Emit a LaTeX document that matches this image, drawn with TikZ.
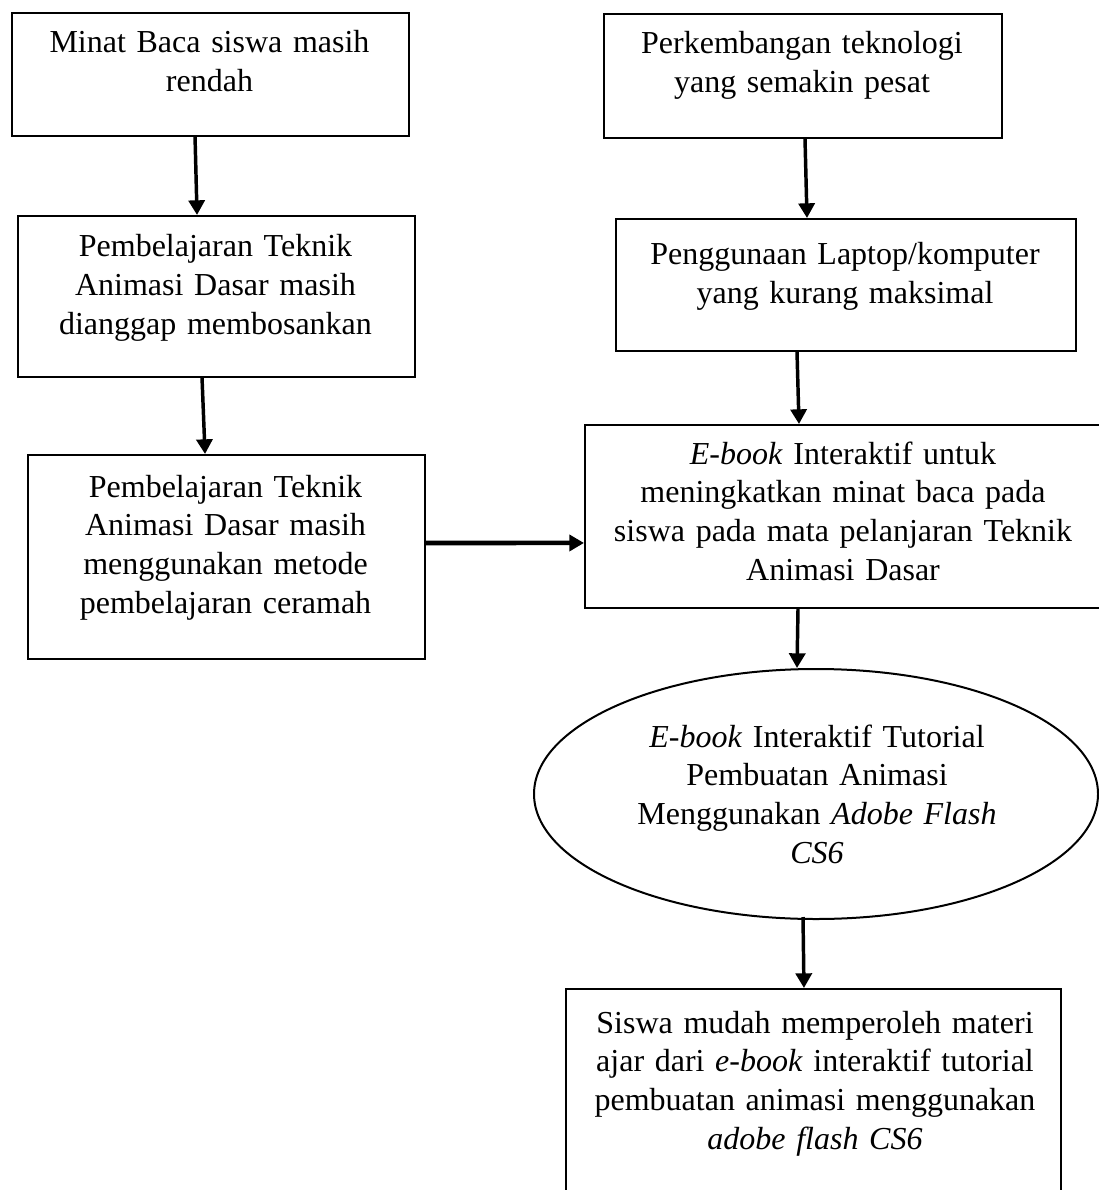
\documentclass[tikz,border=0pt]{standalone}
\usepackage{fontspec}
\setmainfont{Liberation Serif}
\usetikzlibrary{arrows.meta,calc,shapes.geometric}
\begin{document}
\begin{tikzpicture}[x=0.375pt,y=-0.375pt,
  kotak/.style={draw,line width=0.75pt,rectangle,anchor=north west,inner sep=0pt},
  oval/.style={draw,line width=0.75pt,ellipse,inner sep=0pt},
  teks/.style={anchor=base,align=center,text width=200pt,inner sep=0pt,
    font=\fontsize{12}{14.6}\selectfont},
  panah/.style={line width=1.3pt,-{Triangle[length=5.5pt,width=6pt]}}]
\useasboundingbox (0,0) rectangle (1098,1190);
% kotak kiri
\node[kotak,minimum width=148.9pt,minimum height=46.1pt] (minat) at (11,12) {};
\node[kotak,minimum width=148.9pt,minimum height=60.4pt] (bosan) at (17,215) {};
\node[kotak,minimum width=148.9pt,minimum height=76.5pt] (ceramah) at (27,454) {};
% kotak kanan
\node[kotak,minimum width=149.25pt,minimum height=46.5pt] (pesat) at (603,13) {};
\node[kotak,minimum width=172.5pt,minimum height=49.5pt] (laptop) at (615,218) {};
\node[kotak,minimum width=194.25pt,minimum height=68.6pt] (ebook) at (584,424) {};
\node[oval,minimum width=211.5pt,minimum height=93.75pt] (tutorial) at (816,794) {};
\node[kotak,minimum width=185.6pt,minimum height=79.5pt] (siswa) at (565,988) {};
% teks
\node[teks] (tminat) at (209.5,53) {Minat Baca siswa masih\\rendah};
\node[teks] (tbosan) at (215.5,257) {Pembelajaran Teknik\\Animasi Dasar masih\\dianggap membosankan};
\node[teks] (tceramah) at (225.5,497) {Pembelajaran Teknik\\Animasi Dasar masih\\menggunakan metode\\pembelajaran ceramah};
\node[teks] (tpesat) at (802,54) {Perkembangan teknologi\\yang semakin pesat};
\node[teks] (tlaptop) at (845,265) {Penggunaan Laptop/komputer\\yang kurang maksimal};
\node[teks] (tebook) at (843,464) {\textit{E-book} Interaktif untuk\\meningkatkan minat baca pada\\siswa pada mata pelanjaran Teknik\\Animasi Dasar};
\node[teks] (ttutorial) at (817,747) {\textit{E-book} Interaktif Tutorial\\Pembuatan Animasi\\Menggunakan \textit{Adobe Flash}\\\textit{CS6}};
\node[teks] (tsiswa) at (815,1033) {Siswa mudah memperoleh materi\\ajar dari \textit{e-book} interaktif tutorial\\pembuatan animasi menggunakan\\\textit{adobe flash CS6}};
% panah
\draw[panah] ($(minat.south)+(-15.5,0)$) -- ($(bosan.north)+(-19.5,0)$);
\draw[panah] ($(bosan.south)+(-14.5,0)$) -- ($(ceramah.north)+(-21.5,0)$);
\draw[panah] ($(pesat.south)+(2,0)$) -- ($(laptop.north)+(-39,0)$);
\draw[panah] ($(laptop.south)+(-49,0)$) -- ($(ebook.north)+(-45,0)$);
\draw[panah,line width=1.7pt] ($(ceramah.east)+(0,-14)$) -- ($(ebook.west)+(0,26.5)$);
\draw[panah] ($(ebook.south)+(-46,0)$) -- ($(tutorial.north)+(-19,0)$);
\draw[panah] ($(tutorial.south)+(-13,-3)$) -- ($(siswa.north)+(-9.5,0)$);
\end{tikzpicture}
\end{document}
